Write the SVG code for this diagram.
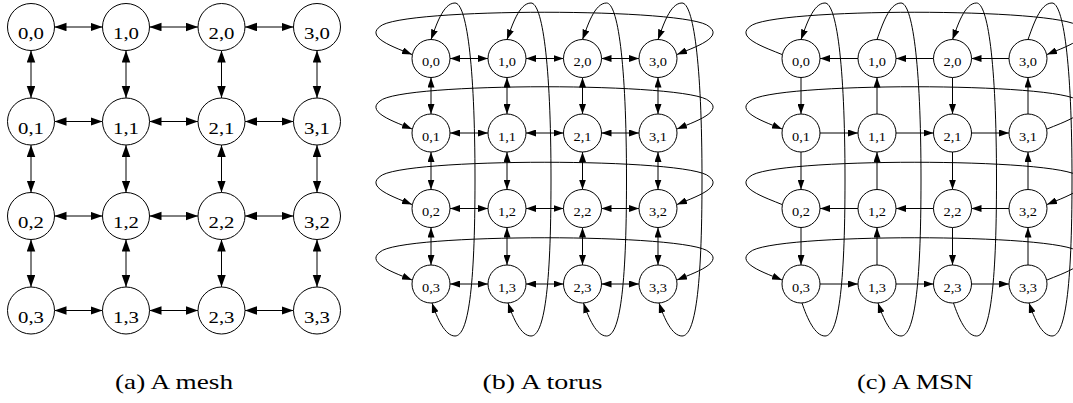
<svg xmlns="http://www.w3.org/2000/svg" width="1073" height="403" viewBox="0 0 1073 403">
<defs>
<style>
.c{fill:#fff;stroke:#000;stroke-width:1}
.e{fill:none;stroke:#000;stroke-width:1}
.lm{font-family:"Liberation Serif","Times New Roman",serif;font-size:17px;text-anchor:middle;fill:#000}
.lt{font-family:"Liberation Serif","Times New Roman",serif;font-size:13px;text-anchor:middle;fill:#000}
.cap{font-family:"Liberation Serif","Times New Roman",serif;font-size:21px;text-anchor:middle;fill:#000}
.mm{marker-start:url(#am);marker-end:url(#am)}
.tt{marker-start:url(#at);marker-end:url(#at)}
.te{marker-end:url(#at)}
.ts{marker-start:url(#at)}
</style>
<marker id="am" markerUnits="userSpaceOnUse" markerWidth="12" markerHeight="9" refX="12" refY="4.25" orient="auto-start-reverse"><path d="M0,0 L12,4.25 L0,8.5 z" fill="#000"/></marker>
<marker id="at" markerUnits="userSpaceOnUse" markerWidth="10" markerHeight="7" refX="10" refY="3.5" orient="auto-start-reverse"><path d="M0,0 L10,3.5 L0,7 z" fill="#000"/></marker>
</defs>
<rect width="1073" height="403" fill="#fff"/>
<g id="connectors">
<!-- mesh -->
<g class="e mm">
<line x1="54.5" y1="27" x2="102.5" y2="27"/><line x1="149.5" y1="27" x2="198" y2="27"/><line x1="245" y1="27" x2="293.5" y2="27"/>
<line x1="54.5" y1="121.5" x2="102.5" y2="121.5"/><line x1="149.5" y1="121.5" x2="198" y2="121.5"/><line x1="245" y1="121.5" x2="293.5" y2="121.5"/>
<line x1="54.5" y1="216" x2="102.5" y2="216"/><line x1="149.5" y1="216" x2="198" y2="216"/><line x1="245" y1="216" x2="293.5" y2="216"/>
<line x1="54.5" y1="310.5" x2="102.5" y2="310.5"/><line x1="149.5" y1="310.5" x2="198" y2="310.5"/><line x1="245" y1="310.5" x2="293.5" y2="310.5"/>
<line x1="31" y1="50.5" x2="31" y2="98"/><line x1="31" y1="145" x2="31" y2="192.5"/><line x1="31" y1="239.5" x2="31" y2="287"/>
<line x1="126" y1="50.5" x2="126" y2="98"/><line x1="126" y1="145" x2="126" y2="192.5"/><line x1="126" y1="239.5" x2="126" y2="287"/>
<line x1="221.5" y1="50.5" x2="221.5" y2="98"/><line x1="221.5" y1="145" x2="221.5" y2="192.5"/><line x1="221.5" y1="239.5" x2="221.5" y2="287"/>
<line x1="317" y1="50.5" x2="317" y2="98"/><line x1="317" y1="145" x2="317" y2="192.5"/><line x1="317" y1="239.5" x2="317" y2="287"/>
</g>
<!-- torus -->
<g class="e tt">
<line x1="450" y1="58.5" x2="488" y2="58.5"/><line x1="526" y1="58.5" x2="563.5" y2="58.5"/><line x1="601.5" y1="58.5" x2="639" y2="58.5"/>
<line x1="450" y1="133" x2="488" y2="133"/><line x1="526" y1="133" x2="563.5" y2="133"/><line x1="601.5" y1="133" x2="639" y2="133"/>
<line x1="450" y1="208.5" x2="488" y2="208.5"/><line x1="526" y1="208.5" x2="563.5" y2="208.5"/><line x1="601.5" y1="208.5" x2="639" y2="208.5"/>
<line x1="450" y1="284" x2="488" y2="284"/><line x1="526" y1="284" x2="563.5" y2="284"/><line x1="601.5" y1="284" x2="639" y2="284"/>
<line x1="431" y1="77.5" x2="431" y2="114"/><line x1="431" y1="152" x2="431" y2="189.5"/><line x1="431" y1="227.5" x2="431" y2="265"/>
<line x1="507" y1="77.5" x2="507" y2="114"/><line x1="507" y1="152" x2="507" y2="189.5"/><line x1="507" y1="227.5" x2="507" y2="265"/>
<line x1="582.5" y1="77.5" x2="582.5" y2="114"/><line x1="582.5" y1="152" x2="582.5" y2="189.5"/><line x1="582.5" y1="227.5" x2="582.5" y2="265"/>
<line x1="658" y1="77.5" x2="658" y2="114"/><line x1="658" y1="152" x2="658" y2="189.5"/><line x1="658" y1="227.5" x2="658" y2="265"/>
<path d="M412,54.5 C395,47.5 365,37.5 380,26.5 C400,7.5 690,7.5 709,26.5 C724,37.5 694,47.5 677,54.5"/>
<path d="M412,129 C395,122 365,112 380,101 C400,82 690,82 709,101 C724,112 694,122 677,129"/>
<path d="M412,204.5 C395,197.5 365,187.5 380,176.5 C400,157.5 690,157.5 709,176.5 C724,187.5 694,197.5 677,204.5"/>
<path d="M412,280 C395,273 365,263 380,252 C400,233 690,233 709,252 C724,263 694,273 677,280"/>
<path d="M431,39.5 C436,26 443,3 455,3 C466,3 475,60 475,180 C475,290 468,336 455,336 C445,336 437,318 432,303"/>
<path d="M507,39.5 C512,26 519,3 531,3 C542,3 551,60 551,180 C551,290 544,336 531,336 C521,336 513,318 508,303"/>
<path d="M582.5,39.5 C587.5,26 594.5,3 606.5,3 C617.5,3 626.5,60 626.5,180 C626.5,290 619.5,336 606.5,336 C596.5,336 588.5,318 583.5,303"/>
<path d="M658,39.5 C663,26 670,3 682,3 C693,3 702,60 702,180 C702,290 695,336 682,336 C672,336 664,318 659,303"/>
</g>
<!-- MSN -->
<g class="e te">
<line x1="858" y1="58.5" x2="820" y2="58.5"/><line x1="933.5" y1="58.5" x2="896" y2="58.5"/><line x1="1009" y1="58.5" x2="971.5" y2="58.5"/>
<line x1="820" y1="133" x2="858" y2="133"/><line x1="896" y1="133" x2="933.5" y2="133"/><line x1="971.5" y1="133" x2="1009" y2="133"/>
<line x1="858" y1="208.5" x2="820" y2="208.5"/><line x1="933.5" y1="208.5" x2="896" y2="208.5"/><line x1="1009" y1="208.5" x2="971.5" y2="208.5"/>
<line x1="820" y1="284" x2="858" y2="284"/><line x1="896" y1="284" x2="933.5" y2="284"/><line x1="971.5" y1="284" x2="1009" y2="284"/>
<line x1="801" y1="77.5" x2="801" y2="114"/><line x1="801" y1="152" x2="801" y2="189.5"/><line x1="801" y1="227.5" x2="801" y2="265"/>
<line x1="877" y1="114" x2="877" y2="77.5"/><line x1="877" y1="189.5" x2="877" y2="152"/><line x1="877" y1="265" x2="877" y2="227.5"/>
<line x1="952.5" y1="77.5" x2="952.5" y2="114"/><line x1="952.5" y1="152" x2="952.5" y2="189.5"/><line x1="952.5" y1="227.5" x2="952.5" y2="265"/>
<line x1="1028" y1="114" x2="1028" y2="77.5"/><line x1="1028" y1="189.5" x2="1028" y2="152"/><line x1="1028" y1="265" x2="1028" y2="227.5"/>
<path d="M782,54.5 C765,47.5 735,37.5 750,26.5 C770,7.5 1060,7.5 1079,26.5 C1094,37.5 1064,47.5 1047,54.5"/>
<path d="M782,204.5 C765,197.5 735,187.5 750,176.5 C770,157.5 1060,157.5 1079,176.5 C1094,187.5 1064,197.5 1047,204.5"/>
<path d="M877,39.5 C882,26 889,3 901,3 C912,3 921,60 921,180 C921,290 914,336 901,336 C891,336 883,318 878,303"/>
<path d="M1028,39.5 C1033,26 1040,3 1052,3 C1063,3 1072,60 1072,180 C1072,290 1065,336 1052,336 C1042,336 1034,318 1029,303"/>
</g>
<g class="e ts">
<path d="M782,129 C765,122 735,112 750,101 C770,82 1060,82 1079,101 C1094,112 1064,122 1047,129"/>
<path d="M782,280 C765,273 735,263 750,252 C770,233 1060,233 1079,252 C1094,263 1064,273 1047,280"/>
<path d="M801,39.5 C806,26 813,3 825,3 C836,3 845,60 845,180 C845,290 838,336 825,336 C815,336 807,318 802,303"/>
<path d="M952.5,39.5 C957.5,26 964.5,3 976.5,3 C987.5,3 996.5,60 996.5,180 C996.5,290 989.5,336 976.5,336 C966.5,336 958.5,318 953.5,303"/>
</g>
</g>
<!-- mesh nodes -->
<g id="mesh-0-0"><circle class="c" cx="31" cy="27" r="23.5"/><text class="lm" x="31" y="39" textLength="26" lengthAdjust="spacingAndGlyphs">0,0</text></g>
<g id="mesh-1-0"><circle class="c" cx="126" cy="27" r="23.5"/><text class="lm" x="126" y="39" textLength="26" lengthAdjust="spacingAndGlyphs">1,0</text></g>
<g id="mesh-2-0"><circle class="c" cx="221.5" cy="27" r="23.5"/><text class="lm" x="221.5" y="39" textLength="26" lengthAdjust="spacingAndGlyphs">2,0</text></g>
<g id="mesh-3-0"><circle class="c" cx="317" cy="27" r="23.5"/><text class="lm" x="317" y="39" textLength="26" lengthAdjust="spacingAndGlyphs">3,0</text></g>
<g id="mesh-0-1"><circle class="c" cx="31" cy="121.5" r="23.5"/><text class="lm" x="31" y="133.5" textLength="26" lengthAdjust="spacingAndGlyphs">0,1</text></g>
<g id="mesh-1-1"><circle class="c" cx="126" cy="121.5" r="23.5"/><text class="lm" x="126" y="133.5" textLength="26" lengthAdjust="spacingAndGlyphs">1,1</text></g>
<g id="mesh-2-1"><circle class="c" cx="221.5" cy="121.5" r="23.5"/><text class="lm" x="221.5" y="133.5" textLength="26" lengthAdjust="spacingAndGlyphs">2,1</text></g>
<g id="mesh-3-1"><circle class="c" cx="317" cy="121.5" r="23.5"/><text class="lm" x="317" y="133.5" textLength="26" lengthAdjust="spacingAndGlyphs">3,1</text></g>
<g id="mesh-0-2"><circle class="c" cx="31" cy="216" r="23.5"/><text class="lm" x="31" y="228" textLength="26" lengthAdjust="spacingAndGlyphs">0,2</text></g>
<g id="mesh-1-2"><circle class="c" cx="126" cy="216" r="23.5"/><text class="lm" x="126" y="228" textLength="26" lengthAdjust="spacingAndGlyphs">1,2</text></g>
<g id="mesh-2-2"><circle class="c" cx="221.5" cy="216" r="23.5"/><text class="lm" x="221.5" y="228" textLength="26" lengthAdjust="spacingAndGlyphs">2,2</text></g>
<g id="mesh-3-2"><circle class="c" cx="317" cy="216" r="23.5"/><text class="lm" x="317" y="228" textLength="26" lengthAdjust="spacingAndGlyphs">3,2</text></g>
<g id="mesh-0-3"><circle class="c" cx="31" cy="310.5" r="23.5"/><text class="lm" x="31" y="322.5" textLength="26" lengthAdjust="spacingAndGlyphs">0,3</text></g>
<g id="mesh-1-3"><circle class="c" cx="126" cy="310.5" r="23.5"/><text class="lm" x="126" y="322.5" textLength="26" lengthAdjust="spacingAndGlyphs">1,3</text></g>
<g id="mesh-2-3"><circle class="c" cx="221.5" cy="310.5" r="23.5"/><text class="lm" x="221.5" y="322.5" textLength="26" lengthAdjust="spacingAndGlyphs">2,3</text></g>
<g id="mesh-3-3"><circle class="c" cx="317" cy="310.5" r="23.5"/><text class="lm" x="317" y="322.5" textLength="26" lengthAdjust="spacingAndGlyphs">3,3</text></g>
<!-- torus nodes -->
<g id="torus-0-0"><circle class="c" cx="431" cy="58.5" r="19"/><text class="lt" x="431" y="66" textLength="18" lengthAdjust="spacingAndGlyphs">0,0</text></g>
<g id="torus-1-0"><circle class="c" cx="507" cy="58.5" r="19"/><text class="lt" x="507" y="66" textLength="18" lengthAdjust="spacingAndGlyphs">1,0</text></g>
<g id="torus-2-0"><circle class="c" cx="582.5" cy="58.5" r="19"/><text class="lt" x="582.5" y="66" textLength="18" lengthAdjust="spacingAndGlyphs">2,0</text></g>
<g id="torus-3-0"><circle class="c" cx="658" cy="58.5" r="19"/><text class="lt" x="658" y="66" textLength="18" lengthAdjust="spacingAndGlyphs">3,0</text></g>
<g id="torus-0-1"><circle class="c" cx="431" cy="133" r="19"/><text class="lt" x="431" y="140.5" textLength="18" lengthAdjust="spacingAndGlyphs">0,1</text></g>
<g id="torus-1-1"><circle class="c" cx="507" cy="133" r="19"/><text class="lt" x="507" y="140.5" textLength="18" lengthAdjust="spacingAndGlyphs">1,1</text></g>
<g id="torus-2-1"><circle class="c" cx="582.5" cy="133" r="19"/><text class="lt" x="582.5" y="140.5" textLength="18" lengthAdjust="spacingAndGlyphs">2,1</text></g>
<g id="torus-3-1"><circle class="c" cx="658" cy="133" r="19"/><text class="lt" x="658" y="140.5" textLength="18" lengthAdjust="spacingAndGlyphs">3,1</text></g>
<g id="torus-0-2"><circle class="c" cx="431" cy="208.5" r="19"/><text class="lt" x="431" y="216" textLength="18" lengthAdjust="spacingAndGlyphs">0,2</text></g>
<g id="torus-1-2"><circle class="c" cx="507" cy="208.5" r="19"/><text class="lt" x="507" y="216" textLength="18" lengthAdjust="spacingAndGlyphs">1,2</text></g>
<g id="torus-2-2"><circle class="c" cx="582.5" cy="208.5" r="19"/><text class="lt" x="582.5" y="216" textLength="18" lengthAdjust="spacingAndGlyphs">2,2</text></g>
<g id="torus-3-2"><circle class="c" cx="658" cy="208.5" r="19"/><text class="lt" x="658" y="216" textLength="18" lengthAdjust="spacingAndGlyphs">3,2</text></g>
<g id="torus-0-3"><circle class="c" cx="431" cy="284" r="19"/><text class="lt" x="431" y="291.5" textLength="18" lengthAdjust="spacingAndGlyphs">0,3</text></g>
<g id="torus-1-3"><circle class="c" cx="507" cy="284" r="19"/><text class="lt" x="507" y="291.5" textLength="18" lengthAdjust="spacingAndGlyphs">1,3</text></g>
<g id="torus-2-3"><circle class="c" cx="582.5" cy="284" r="19"/><text class="lt" x="582.5" y="291.5" textLength="18" lengthAdjust="spacingAndGlyphs">2,3</text></g>
<g id="torus-3-3"><circle class="c" cx="658" cy="284" r="19"/><text class="lt" x="658" y="291.5" textLength="18" lengthAdjust="spacingAndGlyphs">3,3</text></g>
<!-- MSN nodes -->
<g id="msn-0-0"><circle class="c" cx="801" cy="58.5" r="19"/><text class="lt" x="801" y="66" textLength="18" lengthAdjust="spacingAndGlyphs">0,0</text></g>
<g id="msn-1-0"><circle class="c" cx="877" cy="58.5" r="19"/><text class="lt" x="877" y="66" textLength="18" lengthAdjust="spacingAndGlyphs">1,0</text></g>
<g id="msn-2-0"><circle class="c" cx="952.5" cy="58.5" r="19"/><text class="lt" x="952.5" y="66" textLength="18" lengthAdjust="spacingAndGlyphs">2,0</text></g>
<g id="msn-3-0"><circle class="c" cx="1028" cy="58.5" r="19"/><text class="lt" x="1028" y="66" textLength="18" lengthAdjust="spacingAndGlyphs">3,0</text></g>
<g id="msn-0-1"><circle class="c" cx="801" cy="133" r="19"/><text class="lt" x="801" y="140.5" textLength="18" lengthAdjust="spacingAndGlyphs">0,1</text></g>
<g id="msn-1-1"><circle class="c" cx="877" cy="133" r="19"/><text class="lt" x="877" y="140.5" textLength="18" lengthAdjust="spacingAndGlyphs">1,1</text></g>
<g id="msn-2-1"><circle class="c" cx="952.5" cy="133" r="19"/><text class="lt" x="952.5" y="140.5" textLength="18" lengthAdjust="spacingAndGlyphs">2,1</text></g>
<g id="msn-3-1"><circle class="c" cx="1028" cy="133" r="19"/><text class="lt" x="1028" y="140.5" textLength="18" lengthAdjust="spacingAndGlyphs">3,1</text></g>
<g id="msn-0-2"><circle class="c" cx="801" cy="208.5" r="19"/><text class="lt" x="801" y="216" textLength="18" lengthAdjust="spacingAndGlyphs">0,2</text></g>
<g id="msn-1-2"><circle class="c" cx="877" cy="208.5" r="19"/><text class="lt" x="877" y="216" textLength="18" lengthAdjust="spacingAndGlyphs">1,2</text></g>
<g id="msn-2-2"><circle class="c" cx="952.5" cy="208.5" r="19"/><text class="lt" x="952.5" y="216" textLength="18" lengthAdjust="spacingAndGlyphs">2,2</text></g>
<g id="msn-3-2"><circle class="c" cx="1028" cy="208.5" r="19"/><text class="lt" x="1028" y="216" textLength="18" lengthAdjust="spacingAndGlyphs">3,2</text></g>
<g id="msn-0-3"><circle class="c" cx="801" cy="284" r="19"/><text class="lt" x="801" y="291.5" textLength="18" lengthAdjust="spacingAndGlyphs">0,3</text></g>
<g id="msn-1-3"><circle class="c" cx="877" cy="284" r="19"/><text class="lt" x="877" y="291.5" textLength="18" lengthAdjust="spacingAndGlyphs">1,3</text></g>
<g id="msn-2-3"><circle class="c" cx="952.5" cy="284" r="19"/><text class="lt" x="952.5" y="291.5" textLength="18" lengthAdjust="spacingAndGlyphs">2,3</text></g>
<g id="msn-3-3"><circle class="c" cx="1028" cy="284" r="19"/><text class="lt" x="1028" y="291.5" textLength="18" lengthAdjust="spacingAndGlyphs">3,3</text></g>
<!-- captions -->
<g id="captions">
<text class="cap" x="174" y="389" textLength="118" lengthAdjust="spacingAndGlyphs">(a) A mesh</text>
<text class="cap" x="542.5" y="389" textLength="120" lengthAdjust="spacingAndGlyphs">(b) A torus</text>
<text class="cap" x="915" y="389" textLength="116" lengthAdjust="spacingAndGlyphs">(c) A MSN</text>
</g>
</svg>
